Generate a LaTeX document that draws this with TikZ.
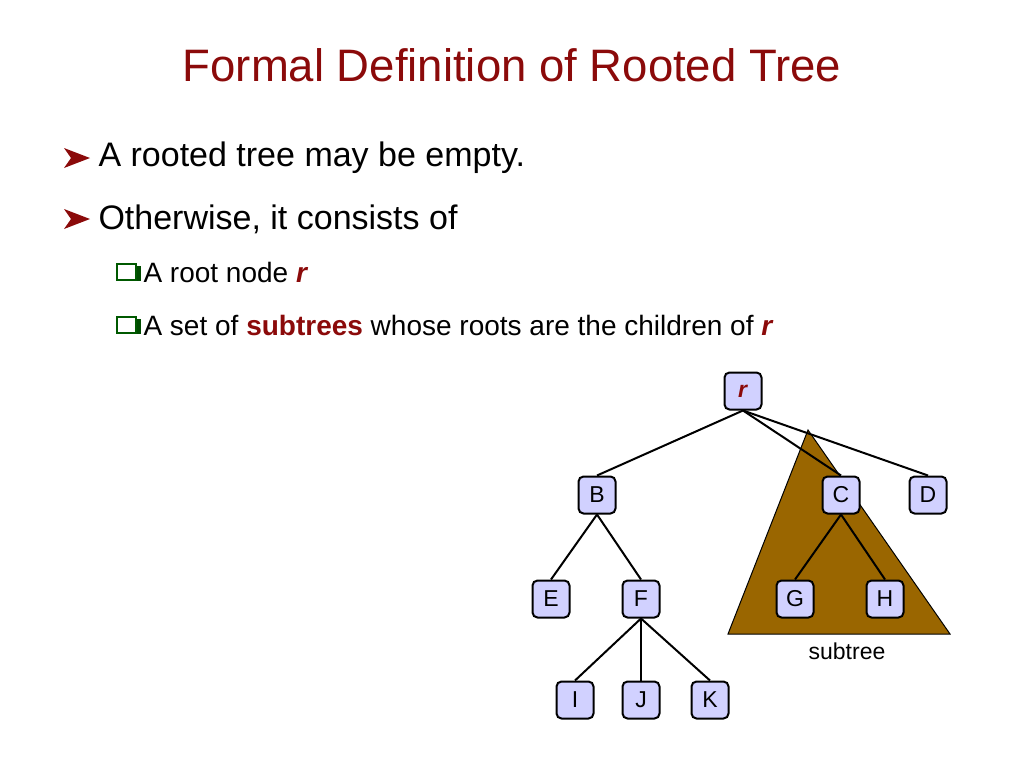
\documentclass[tikz,border=0pt]{standalone}
\usepackage{fontspec}
\setmainfont{Liberation Sans}
\begin{document}
\begin{tikzpicture}[x=1pt,y=-1pt,
  tn/.style={draw=black,line width=2pt,fill=blue!18,rounded corners=5pt,minimum width=37pt,minimum height=37pt,inner sep=0pt,font=\fontsize{23}{23}\selectfont},
  ed/.style={line width=2pt},
  bl/.style={anchor=west,font=\fontsize{34}{34}\selectfont},
  sbl/.style={anchor=west,font=\fontsize{28}{28}\selectfont}]
\useasboundingbox (0,0) rectangle (1024,768);
\definecolor{dred}{HTML}{8B0A0A}
\definecolor{brn}{HTML}{9A6600}
\node[font=\fontsize{45.5}{45.5}\selectfont,text=dred] (title) at (512,65) {Formal Definition of Rooted Tree};
% bullets
\fill[dred] (64,148) -- (90,158) -- (64,168) -- (71,158) -- cycle;
\fill[dred] (64,209) -- (90,219) -- (64,229) -- (71,219) -- cycle;
\node[bl] (b1) at (95,158) {A rooted tree may be empty.};
\node[bl] (b2) at (95,219) {Otherwise, it consists of};
\fill[green!30!black] (119,266) rectangle (141,281);
\draw[fill=white,draw=green!35!black,line width=1.6pt] (117,264) rectangle (136,280);
\fill[green!30!black] (119,319) rectangle (141,334);
\draw[fill=white,draw=green!35!black,line width=1.6pt] (117,317) rectangle (136,333);
\node[sbl] (s1) at (140,272) {A root node \textcolor{dred}{\textbf{\textit{r}}}};
\node[sbl] (s2) at (140,325) {A set of \textcolor{dred}{\textbf{subtrees}} whose roots are the children of \textcolor{dred}{\textbf{\textit{r}}}};
% subtree triangle
\fill[brn,draw=black,line width=1pt] (808,430) -- (950,634) -- (728,634) -- cycle;
\node[font=\fontsize{23}{23}\selectfont] (st) at (847,651) {subtree};
% nodes
\node[tn,text=dred] (r) at (743,391) {\textbf{\textit{r}}};
\node[tn] (B) at (597,495) {B};
\node[tn] (C) at (841,495) {C};
\node[tn] (D) at (928,495) {D};
\node[tn] (E) at (551,599) {E};
\node[tn] (F) at (641,599) {F};
\node[tn] (G) at (795,599) {G};
\node[tn] (H) at (885,599) {H};
\node[tn] (I) at (575,700) {I};
\node[tn] (J) at (641,700) {J};
\node[tn] (K) at (710,700) {K};
\draw[ed] (r.south) -- (B.north);
\draw[ed] (r.south) -- (C.north);
\draw[ed] (r.south) -- (D.north);
\draw[ed] (B.south) -- (E.north);
\draw[ed] (B.south) -- (F.north);
\draw[ed] (C.south) -- (G.north);
\draw[ed] (C.south) -- (H.north);
\draw[ed] (F.south) -- (I.north);
\draw[ed] (F.south) -- (J.north);
\draw[ed] (F.south) -- (K.north);
\end{tikzpicture}
\end{document}
